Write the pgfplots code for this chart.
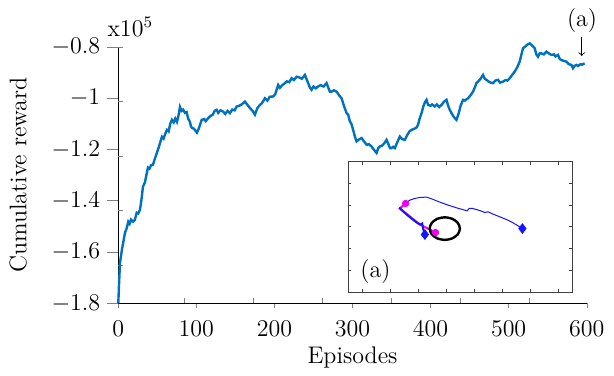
\documentclass[border=0pt]{standalone}
\usepackage{pgfplots}
\pgfplotsset{compat=1.18}
\definecolor{mblue}{RGB}{0,114,189}
\definecolor{traj}{RGB}{20,20,255}
\definecolor{mag}{RGB}{240,0,240}
\begin{document}
\begin{tikzpicture}
\begin{axis}[name=main, scale only axis, width=234.2pt, height=128.3pt,
 xmin=0, xmax=600, ymin=-1.8, ymax=-0.8,
 axis lines=left, axis line style={-},
 xtick={0,100,...,600}, ytick={-1.8,-1.6,-1.4,-1.2,-1,-0.8},
 tick align=outside, major tick length=5.5pt,
 xtick style={/pgfplots/major tick length=2.5pt},
 extra x ticks={84,172.5,261,349.5,438,526.5}, extra x tick labels={},
 extra x tick style={tick align=inside, major tick length=2.5pt},
 extra y ticks={-0.8,-1.013,-1.226,-1.439,-1.652}, extra y tick labels={},
 extra y tick style={tick align=inside, major tick length=2.5pt},
 tick label style={font=\fontsize{13}{15}\selectfont}, label style={font=\large},
 xlabel={Episodes}, ylabel={Cumulative reward},
 xlabel style={at={(axis description cs:0.5,0)}, anchor=base, yshift=-30.3pt},
 clip=false]
\addplot[mblue, line width=1.2pt] coordinates {
(0,-1.8) (1,-1.72) (2.2,-1.641) (3.5,-1.615) (4.7,-1.59) (6.5,-1.56) (8.6,-1.524) (10.5,-1.51)
(12.8,-1.482) (14.5,-1.49) (16.3,-1.474) (18.8,-1.482) (21,-1.476) (23.6,-1.447) (25.5,-1.45)
(27.8,-1.435) (29.5,-1.40) (31.6,-1.345) (34,-1.33) (36,-1.30) (38,-1.271) (40,-1.275)
(42,-1.262) (44.4,-1.26) (47,-1.235) (49.5,-1.213) (52,-1.19) (54,-1.17) (55.9,-1.151)
(58,-1.158) (60,-1.14) (62.3,-1.124) (64.5,-1.13) (66.5,-1.10) (68.7,-1.085) (71,-1.095)
(73,-1.08) (75.1,-1.093) (77,-1.07) (79,-1.035) (81,-1.05) (83,-1.045) (85.4,-1.058)
(87.5,-1.055) (89.5,-1.08) (91.8,-1.093) (93,-1.11) (94.3,-1.116) (97,-1.12) (100.7,-1.135)
(103,-1.12) (106.8,-1.085) (110,-1.082) (112,-1.09) (115.2,-1.078) (118,-1.07) (121,-1.065)
(123.5,-1.05) (126,-1.046) (128,-1.058) (131,-1.048) (134.4,-1.053) (137,-1.062) (140,-1.05)
(143,-1.059) (146,-1.045) (149,-1.048) (151.6,-1.033) (155,-1.03) (158,-1.025) (162.2,-1.014)
(165,-1.025) (168.6,-1.039) (172,-1.05) (175,-1.065) (178,-1.04) (181.4,-1.027) (184,-1.02)
(187.8,-1.001) (191,-1.01) (194,-0.995) (198.4,-0.994) (201,-0.985) (204.8,-0.949) (207,-0.96)
(210,-0.95) (213.4,-0.942) (216,-0.935) (219,-0.938) (222,-0.923) (225,-0.93) (228.4,-0.917)
(232,-0.92) (235,-0.925) (239,-0.91) (241,-0.925) (243.2,-0.942) (245.5,-0.96) (247.6,-0.968)
(250,-0.955) (253,-0.962) (256,-0.955) (259,-0.95) (263,-0.955) (266.8,-0.942) (269,-0.96)
(271,-0.975) (273.2,-0.975) (276,-0.97) (279.6,-0.975) (283,-0.99) (286,-1.001) (289,-1.03)
(292.4,-1.059) (294.5,-1.065) (296.6,-1.091) (298.5,-1.10) (300.8,-1.124) (303,-1.15)
(305.2,-1.169) (308,-1.162) (311.6,-1.156) (315,-1.17) (318,-1.182) (321,-1.18) (324.4,-1.189)
(327,-1.20) (330.8,-1.214) (333,-1.195) (335,-1.189) (338,-1.185) (341,-1.175) (343.6,-1.163)
(346,-1.18) (348,-1.195) (350,-1.195) (352,-1.19) (354.2,-1.195) (357,-1.175) (360.6,-1.15)
(363.5,-1.16) (367,-1.163) (370,-1.145) (373,-1.13) (375.6,-1.124) (379,-1.12) (382,-1.115)
(384,-1.104) (386,-1.08) (388.4,-1.059) (391,-1.03) (393,-1.015) (394.8,-1.007) (396.8,-1.027)
(400,-1.03) (402,-1.025) (405.4,-1.033) (408,-1.025) (411,-1.035) (414,-1.027) (417,-1.015)
(420.4,-1.007) (422.5,-1.03) (424.6,-1.046) (427,-1.06) (430,-1.075) (433.2,-1.085) (436,-1.06)
(438.5,-1.03) (441.6,-1.007) (444,-1.01) (446,-1.005) (448,-1.001) (451,-0.99) (454.4,-0.975)
(456.5,-0.96) (458.8,-0.942) (461,-0.935) (464,-0.925) (467.2,-0.91) (469.5,-0.925)
(471.6,-0.929) (474,-0.935) (477,-0.94) (480,-0.942) (483,-0.932) (486.4,-0.929) (489,-0.94)
(492.8,-0.936) (496,-0.93) (498.5,-0.932) (501.4,-0.923) (504,-0.912) (507.8,-0.897) (511,-0.88)
(514.2,-0.858) (516,-0.835) (518.4,-0.806) (521,-0.8) (524,-0.792) (527,-0.787) (530,-0.795)
(533.4,-0.806) (535.5,-0.83) (537.6,-0.839) (540,-0.825) (542,-0.826) (545,-0.83) (548.4,-0.819)
(551,-0.825) (554.8,-0.832) (558,-0.83) (560,-0.838) (563.2,-0.832) (565.5,-0.848) (567.6,-0.852)
(570.5,-0.855) (574,-0.858) (577,-0.868) (580.4,-0.871) (582.4,-0.884) (584.5,-0.875)
(586.8,-0.871) (589,-0.875) (592,-0.868) (594,-0.87) (597.4,-0.865)
};
\node[anchor=base, font=\large] at (rel axis cs:0,1) [xshift=6pt, yshift=5.3pt] {x10$^5$};
\node[font=\large] at (axis cs:594,-0.696) {(a)};
\draw[->, thin] (axis cs:593.6,-0.762) -- (axis cs:593.6,-0.836);
\end{axis}
\begin{axis}[at={(main.south west)}, anchor=south west, xshift=115pt, yshift=5.65pt,
 scale only axis, width=111.85pt, height=65.15pt,
 xmin=0, xmax=8, ymin=0, ymax=6,
 xtick={0.5,1.5,...,7.5}, ytick={1,2,3,4,5},
 xticklabels={}, yticklabels={},
 tick align=inside, major tick length=1.5pt,
 axis line style={black!75}, every tick/.style={black!75},
 axis background/.style={fill=white}, clip=false]
\addplot[traj, line width=0.5pt] coordinates {
(1.821,3.877) (1.905,3.923) (2.024,4.077) (2.202,4.231) (2.381,4.308) (2.560,4.354)
(2.798,4.369) (2.976,4.292) (3.274,4.138) (3.571,4.0) (3.869,3.877) (4.167,3.769)
(4.25,3.738) (4.321,3.846) (4.440,3.846) (4.583,3.8) (4.762,3.723) (4.881,3.662)
(5.0,3.692) (5.179,3.585) (5.417,3.462) (5.655,3.338) (5.893,3.185) (6.071,3.046)
(6.226,2.923)
};
\addplot[mag, line width=1pt] coordinates {
(2.048,4.077) (1.845,3.846) (2.560,3.108) (3.119,2.738)
};
\addplot[traj, line width=1pt] coordinates {
(1.821,3.877) (2.083,3.569) (2.381,3.262) (2.5,3.154) (2.583,3.108) (2.643,3.154)
(2.679,2.892) (2.738,2.646)
};
\addplot[only marks, mark=diamond*, mark size=2.4pt, traj] coordinates {
(2.738,2.646) (6.226,2.923)
};
\addplot[only marks, mark=*, mark size=1.6pt, mag] coordinates {
(2.048,4.077) (3.119,2.738)
};
\addplot[black, line width=1.2pt, smooth cycle] coordinates {
(3.99,2.92) (3.918,3.18) (3.72,3.37) (3.45,3.44) (3.18,3.37) (2.982,3.18)
(2.91,2.92) (2.982,2.66) (3.18,2.47) (3.45,2.40) (3.72,2.47) (3.918,2.66)
};
\node[font=\large] at (axis cs:0.97,0.95) {(a)};
\end{axis}
\path[use as bounding box] (main.south west) ++(-59.15pt,-34.85pt) rectangle ([xshift=13.65pt,yshift=23.35pt]main.north east);
\end{tikzpicture}
\end{document}
